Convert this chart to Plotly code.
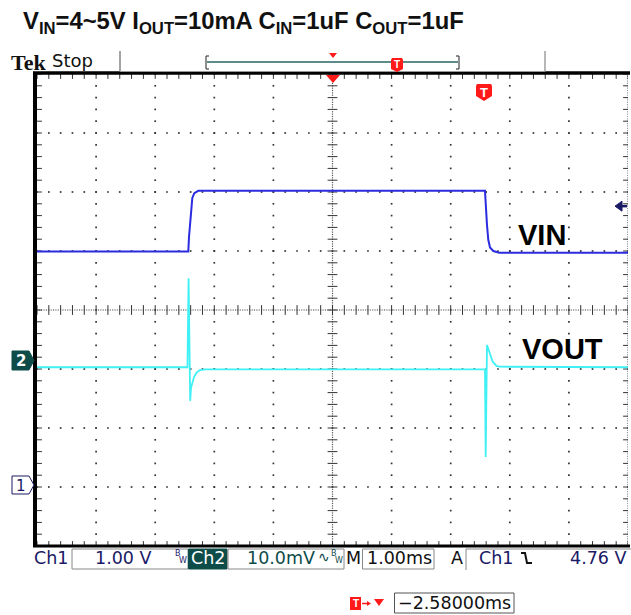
import numpy as np
import plotly.graph_objects as go

# ---------------- data ----------------
# Ch1 (VIN), volts, time in ms relative to trigger
vin_t = [-7.58, -5.020, -5.008, -4.979, -4.952, -4.918, -4.851, 0.000, 0.012, 0.034, 0.056, 0.085, 0.141, 0.242, 2.42]
vin_v = [3.99, 3.99, 4.24, 4.64, 4.90, 4.98, 5.02, 5.02, 4.75, 4.44, 4.19, 4.06, 4.00, 3.97, 3.97]
# Ch2 (VOUT, AC coupled), millivolts
vout_t = [-7.58, -5.034, -5.015, -5.003, -4.988, -4.974, -4.957, -4.923, -4.881, -4.822, -4.737,
          -0.02, 0.000, 0.012, 0.034, 0.073, 0.131, 0.198, 0.254, 2.42]
vout_mv = [0.3, 0.3, 15.4, 2.9, -5.4, -3.2, -2.5, -1.36, -0.6, -0.17, -0.05,
           -0.05, -0.05, -14.9, 4.07, 2.93, 1.24, 0.5, 0.39, 0.3]

ch1_scale = "1.00 V"
ch2_scale = "10.0mV"
time_scale = "1.00ms"
trig_level = 4.76
trig_text = "4.76 V"
trig_delay = "\u22122.58000ms"

# axis ranges (8 vertical divisions, 10 horizontal)
ch1_range = [-1, 7]       # 1 V/div, ground 1 div above bottom
ch2_range = [-30, 50]     # 10 mV/div, ground 3 div above bottom
t_range = [-7.58, 2.42]   # 1 ms/div, trigger 2.58 div right of centre

# ---------------- geometry helpers ----------------
L, R, T, B = 37, 628, 74, 546
W, H = R - L, B - T


def PX(x):
    return (x - L) / W


def PY(y):
    return (B - y) / H


def path(pts):
    s = "M " + " L ".join(f"{PX(x):.5f},{PY(y):.5f}" for x, y in pts)
    return s


shapes = []
anns = []


def line(x0, y0, x1, y1, color="#000", width=1, dash=None):
    d = dict(type="line", xref="paper", yref="paper", x0=PX(x0), y0=PY(y0), x1=PX(x1), y1=PY(y1),
             line=dict(color=color, width=width))
    if dash:
        d["line"]["dash"] = dash
    shapes.append(d)


def rect(x0, y0, x1, y1, fill="white", lc="#777", lw=1):
    shapes.append(dict(type="rect", xref="paper", yref="paper", x0=PX(x0), y0=PY(y0), x1=PX(x1), y1=PY(y1),
                       fillcolor=fill, line=dict(color=lc, width=lw), layer="above"))


def poly(pts, fill, lc=None, lw=0, closed=True):
    p = path(pts) + (" Z" if closed else "")
    shapes.append(dict(type="path", xref="paper", yref="paper", path=p,
                       fillcolor=fill if closed else None,
                       line=dict(color=lc or fill, width=lw), layer="above"))


def text(t, x, y, size, color="#000", family="DejaVu Sans", xanchor="center", yanchor="middle"):
    anns.append(dict(text=t, xref="paper", yref="paper", x=PX(x), y=PY(y), xanchor=xanchor, yanchor=yanchor,
                     showarrow=False, font=dict(size=size, color=color, family=family), borderpad=0))


fig = go.Figure()

# ---------------- graticule (division coordinates) ----------------
gc = "#333333"
gx, gy = [], []
for k in range(1, 10):
    if k == 5:
        continue
    for j in range(41):
        gx.append(k); gy.append(j * 0.2)
for m in range(1, 8):
    if m == 4:
        continue
    for j in range(51):
        gx.append(j * 0.2); gy.append(m)
fig.add_trace(go.Scatter(x=gx, y=gy, mode="markers", xaxis="x", yaxis="y", hoverinfo="skip",
                         marker=dict(symbol="square", size=1.7, color=gc, line=dict(width=0)), showlegend=False))

# centre lines: dense dots
cx = list(np.arange(0, 10.001, 0.04)) + [5] * 201 + [10] * 201
cy = [4] * 251 + list(np.arange(0, 8.001, 0.04)) * 2
fig.add_trace(go.Scatter(x=cx, y=cy, mode="markers", xaxis="x", yaxis="y", hoverinfo="skip",
                         marker=dict(symbol="square", size=1.2, color="#555", line=dict(width=0)), showlegend=False))
# tick marks on centre lines and borders
tx_ns = list(np.arange(0, 10.001, 0.2)) * 3
ty_ns = [4] * 51 + [0] * 51 + [8] * 51
fig.add_trace(go.Scatter(x=tx_ns, y=ty_ns, mode="markers", xaxis="x", yaxis="y", hoverinfo="skip",
                         marker=dict(symbol="line-ns", size=7, line=dict(width=1, color=gc)), showlegend=False))
tx_ew = [5] * 41 + [0] * 41 + [10] * 41
ty_ew = list(np.arange(0, 8.001, 0.2)) * 3
fig.add_trace(go.Scatter(x=tx_ew, y=ty_ew, mode="markers", xaxis="x", yaxis="y", hoverinfo="skip",
                         marker=dict(symbol="line-ew", size=7, line=dict(width=1, color=gc)), showlegend=False))

# ---------------- waveforms ----------------
fig.add_trace(go.Scatter(x=vin_t, y=vin_v, mode="lines", xaxis="x2", yaxis="y2", name="VIN",
                         line=dict(color="#2b2be0", width=2), showlegend=False))
fig.add_trace(go.Scatter(x=vout_t, y=vout_mv, mode="lines", xaxis="x2", yaxis="y3", name="VOUT",
                         line=dict(color="#3ff0f4", width=1.8), showlegend=False))

# ---------------- frame ----------------
line(35, T - 1, 35, B + 1, "#000", 4)
line(33, 73, R + 2, 73, "#000", 3.5)
line(33, 546, R + 2, 546, "#000", 3)

# ---------------- header ----------------
text("<b>V<sub>IN</sub>=4~5V I<sub>OUT</sub>=10mA C<sub>IN</sub>=1uF C<sub>OUT</sub>=1uF</b>", 22, 22, 23.8,
     "#111", "Liberation Sans", xanchor="left")
text("<b>Tek</b>", 10, 62, 22, "#111", "Liberation Serif", xanchor="left")
text("Stop", 51, 61, 18, "#111", "DejaVu Sans", xanchor="left")
line(120, 51, 120, 72, "#666", 1.2)
line(120, 71.5, 545, 71.5, "#999", 1.2)
line(545, 51, 545, 72, "#888", 1.2)
# record bracket
line(206, 56, 206, 69, "#444", 1.2); line(206, 56, 209, 56, "#444", 1.2); line(206, 69, 209, 69, "#444", 1.2)
line(459, 56, 459, 69, "#444", 1.2); line(459, 56, 456, 56, "#444", 1.2); line(459, 69, 456, 69, "#444", 1.2)
line(207, 62, 458, 62, "#5d8c8a", 2)
poly([(329, 53), (337, 53), (333, 58)], "#ff1a1a")
poly([(392, 58), (402, 58), (403, 60), (403, 69), (397, 72), (391, 69), (391, 60)], "#ff1a1a")
text("<b>T</b>", 397, 64.5, 10, "white", "Liberation Sans")
# in-graticule trigger markers
poly([(326, 75), (340, 75), (333, 83)], "#ff1a1a")
poly([(477, 84), (491, 84), (492, 86), (492, 96), (484, 101), (476, 96), (476, 86)], "#ff1a1a")
text("<b>T</b>", 484, 92, 13, "white", "Liberation Sans")

# ---------------- channel ground markers ----------------
poly([(12, 351), (29, 351), (34, 360.5), (29, 370), (12, 370)], "#0e4c49", "#0e4c49", 1)
text("<b>2</b>", 20.5, 361, 15, "white", "DejaVu Sans")
poly([(12, 476), (29, 476), (34, 485), (29, 494), (12, 494)], "white", "#1a1a66", 1)
text("1", 20.5, 485.5, 15, "#1a1a66", "DejaVu Sans")
# trigger level arrow (right edge) at trig_level on Ch1 axis
shapes.append(dict(type="path", xref="paper", yref="y2", xsizemode="pixel", ysizemode="pixel",
                   xanchor=1, yanchor=trig_level, path="M-13,0 L-6,5 L-6,-5 Z",
                   fillcolor="#1a1a66", line=dict(color="#1a1a66", width=1), layer="above"))
shapes.append(dict(type="path", xref="paper", yref="y2", xsizemode="pixel", ysizemode="pixel",
                   xanchor=1, yanchor=trig_level, path="M-7,0 L-1,0",
                   line=dict(color="#1a1a66", width=2.5), layer="above"))

# ---------------- labels ----------------
text("<b>VIN</b>", 542, 235, 29, "#000", "Liberation Sans")
text("<b>VOUT</b>", 562, 349, 29, "#000", "Liberation Sans")

# ---------------- status bar ----------------
navy = "#1a1a66"
teal = "#0e4c49"
text("Ch1", 51, 558, 17.5, navy)
rect(72, 549, 188, 569, "white", "#888", 1)
text(ch1_scale, 123, 558, 17.5, navy)
text("B", 178, 553, 8, navy); text("W", 183, 560, 8, navy)
rect(188.5, 549, 227, 569, teal, teal, 1)
text("Ch2", 207.5, 558, 17.5, "white")
rect(228, 549, 344, 569, "white", "#888", 1)
text(ch2_scale, 281, 558, 17.5, teal)
text("\u223F", 324, 557, 14, teal)
text("B", 334, 553, 8, teal); text("W", 339, 560, 8, teal)
text("M", 353.5, 558, 17.5, "#111")
rect(362.5, 549, 434, 569, "white", "#888", 1)
text(time_scale, 399, 558, 17.5, "#111")
text("A", 457, 558, 17.5, "#111")
line(466, 549, 466, 570, "#888", 1)
line(466, 549, 640, 549, "#888", 1)
text("Ch1", 496, 558, 17.5, navy)
shapes.append(dict(type="path", xref="paper", yref="paper",
                   path=path([(521, 553), (525, 553), (527, 563), (532, 563)]),
                   line=dict(color="#111", width=2)))
text(trig_text, 598, 558, 17.5, navy)

# trigger delay readout
poly([(350, 597), (361, 597), (361, 610), (350, 610)], "#ff1a1a")
text("<b>T</b>", 355.5, 603.5, 10, "white", "Liberation Sans")
line(362, 603.5, 369, 603.5, "#ff1a1a", 1.5)
poly([(367, 601), (371, 603.5), (367, 606)], "#ff1a1a")
poly([(374, 599), (384, 599), (379, 606)], "#ff1a1a")
rect(394.5, 593, 514, 613, "white", "#555", 1)
text(trig_delay, 454, 603, 17.5, "#111")

# ---------------- layout ----------------
hidden = dict(visible=False, showgrid=False, zeroline=False, fixedrange=True)
fig.update_layout(
    width=631, height=615,
    margin=dict(l=L, r=631 - R, t=T, b=615 - B),
    paper_bgcolor="white", plot_bgcolor="white",
    xaxis=dict(range=[0, 10], **hidden),
    yaxis=dict(range=[0, 8], **hidden),
    xaxis2=dict(range=t_range, overlaying="x", anchor="y2", **hidden),
    yaxis2=dict(range=ch1_range, overlaying="y", anchor="x2", **hidden),
    yaxis3=dict(range=ch2_range, overlaying="y", anchor="x2", **hidden),
    shapes=shapes, annotations=anns, showlegend=False,
)
fig.write_html("out.html", config={"displayModeBar": False},
               post_script="document.body.style.margin='0';document.body.style.padding='0';"
                           "document.body.style.overflow='hidden';")
